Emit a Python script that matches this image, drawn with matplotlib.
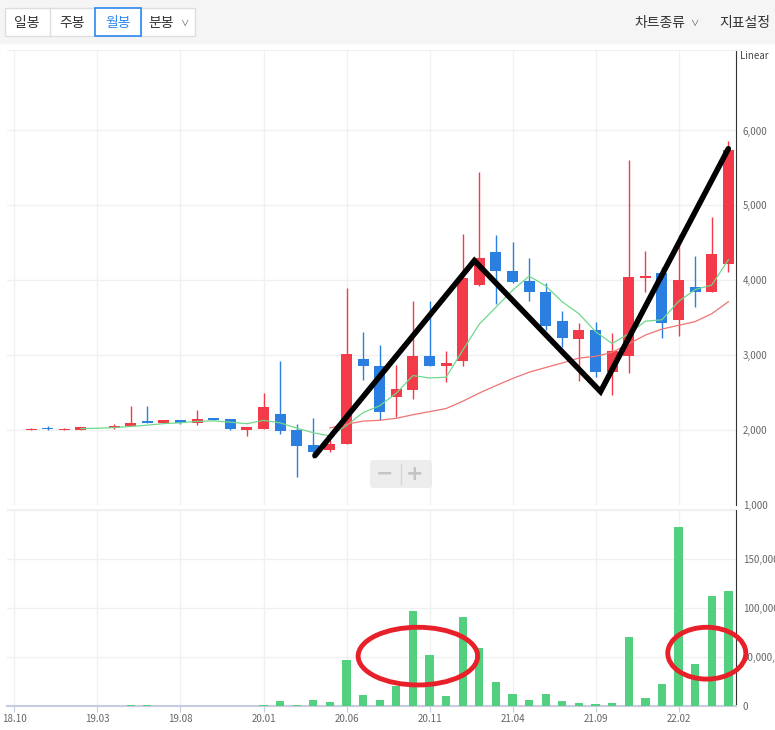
import numpy as np
import pandas as pd
import matplotlib
matplotlib.use('Agg')
import matplotlib.pyplot as plt
from matplotlib.patches import Rectangle, Ellipse, FancyBboxPatch

plt.rcParams['font.family'] = ['Noto Sans CJK KR', 'DejaVu Sans']

# monthly candles, 2018.10 ~ 2022.05
months = pd.period_range('2018-10', '2022-05', freq='M')
opens  = [2020, 2000, 2030, 2000, 2005, 2040, 2025, 2055, 2120, 2090, 2140, 2090,
          2155, 2150, 2005, 2010, 2220, 2005, 1805, 1730, 1820, 2955, 2860, 2440,
          2530, 2995, 2850, 2920, 3940, 4380, 4130, 3985, 3850, 3460, 3215, 3335,
          2770, 2995, 4030, 4100, 3465, 3915, 3850, 4215]
highs  = [2020, 2030, 2050, 2030, 2040, 2040, 2080, 2325, 2325, 2140, 2140, 2270,
          2160, 2150, 2045, 2500, 2920, 2085, 2155, 1870, 3900, 3305, 3130, 2875,
          3730, 3720, 3060, 4620, 5440, 4610, 4505, 4300, 3965, 3585, 3425, 3440,
          3290, 5605, 4395, 4180, 4600, 4330, 4850, 5865]
lows   = [2010, 2000, 2005, 2000, 2005, 2035, 2020, 2050, 2090, 2090, 2080, 2065,
          2135, 2000, 1920, 2010, 1945, 1370, 1630, 1705, 1820, 2665, 2140, 2170,
          2415, 2850, 2640, 2860, 3920, 3680, 3960, 3720, 3340, 3115, 2650, 2705,
          2470, 2760, 3840, 3230, 3255, 3650, 3850, 4105]
closes = [2010, 2020, 2020, 2015, 2035, 2035, 2060, 2100, 2100, 2140, 2090, 2150,
          2140, 2010, 2035, 2315, 1985, 1785, 1705, 1820, 3010, 2850, 2240, 2545,
          2995, 2850, 2900, 4035, 4300, 4120, 3975, 3850, 3385, 3225, 3335, 2775,
          3060, 4040, 4060, 3430, 4000, 3850, 4345, 5745]
volumes_m = [0.1, 0.1, 0.1, 0.1, 0.1, 0.1, 0.2, 1.2, 1.0, 0.1, 0.1, 0.1,
             0.1, 0.1, 0.1, 1.2, 5.0, 1.0, 6.0, 4.0, 47, 11, 6, 20,
             97, 52, 10, 91, 59, 24.5, 12.5, 6.5, 12.5, 5.5, 3.3, 2.3,
             3.3, 70.5, 8.5, 23, 183, 43, 112.5, 118]

tick_idx = [0, 5, 10, 15, 20, 25, 30, 35, 40]
tick_labels = ['18.10', '19.03', '19.08', '20.01', '20.06', '20.11', '21.04', '21.09', '22.02']
price_ticks = [1000, 2000, 3000, 4000, 5000, 6000]
vol_ticks = [0, 50e6, 100e6, 150e6]
vol_labels = ['0', '50,000,000', '100,000,000', '150,000,000']

# hand-drawn markup on top of the chart
zigzag_idx   = [18.1, 27.7, 35.3, 43.0]
zigzag_price = [1660, 4263, 2514, 5757]
circle_centers = [(24.3, 51e6), (41.7, 54e6)]
circle_sizes   = [(7.2, 59e6), (4.7, 53e6)]

UP, DOWN = '#f23a48', '#2b7fe0'
VOL = '#52d07f'
GRID = '#f0f0f0'
TXT = '#666666'

W, H = 775, 730
fig = plt.figure(figsize=(W / 100, H / 100), dpi=100)
fig.patch.set_facecolor('white')

def frac(x0, y0, x1, y1):
    return [x0 / W, 1 - y1 / H, (x1 - x0) / W, (y1 - y0) / H]

ax = fig.add_axes(frac(7, 50, 736, 505))
axv = fig.add_axes(frac(7, 509, 736, 706), sharex=ax)

x = np.arange(len(months))
o, h, l, c = map(np.array, (opens, highs, lows, closes))
colors = np.where(c >= o, UP, DOWN)

ax.vlines(x, l, h, colors=colors, linewidth=1, zorder=3)
body = np.maximum(np.abs(c - o), 8)
ax.bar(x, body, bottom=np.minimum(o, c), width=0.66, color=colors, zorder=3)

ma5 = pd.Series(closes).rolling(5).mean()
ma20 = pd.Series(closes).rolling(20).mean()
ax.plot(x, ma5, color='#6fd88a', lw=0.9, zorder=4)
ax.plot(x, ma20, color='#f07373', lw=0.9, zorder=4)

ax.plot(zigzag_idx, zigzag_price, color='black', lw=4, solid_capstyle='round',
        solid_joinstyle='miter', zorder=10)

ax.set_xlim(-0.45, 43.46)
ax.set_ylim(1000, 1000 + 455 / 74.9 * 1000)
ax.set_yticks(price_ticks)
ax.set_yticklabels([f'{v:,}' for v in price_ticks])

axv.bar(x, np.array(volumes_m) * 1e6, width=0.5, color=VOL, zorder=3)
axv.set_ylim(0, 197 / 48.9 * 50e6)
axv.set_yticks(vol_ticks + [200e6])
axv.set_yticklabels(vol_labels + [''])
for (cx, cy), (ew, eh) in zip(circle_centers, circle_sizes):
    axv.add_patch(Ellipse((cx, cy), ew, eh, fill=False, ec='#e8202a', lw=3.5,
                          clip_on=False, zorder=10))

for a in (ax, axv):
    a.yaxis.tick_right()
    a.tick_params(axis='y', length=0, pad=5, labelsize=7, labelcolor=TXT)
    a.grid(True, color=GRID, lw=1, zorder=0)
    for s in a.spines.values():
        s.set_visible(False)
    a.spines['right'].set_visible(True)
    a.spines['right'].set_color('#333333')
    a.spines['top'].set_visible(True)
    a.spines['top'].set_color(GRID)
    a.set_xticks(tick_idx)

ax.tick_params(axis='x', length=0, labelbottom=False)
axv.spines['bottom'].set_visible(True)
axv.spines['bottom'].set_color('#c7cce0')
axv.spines['bottom'].set_linewidth(1.5)
axv.set_xticklabels(tick_labels)
axv.tick_params(axis='x', length=4, color='#c7cce0', labelsize=7, labelcolor=TXT, pad=2)

# overlay in pixel coordinates for the toolbar and widgets
ov = fig.add_axes([0, 0, 1, 1], zorder=5)
ov.set_xlim(0, W)
ov.set_ylim(H, 0)
ov.axis('off')

ov.add_patch(Rectangle((0, 0), W, 43, color='#f5f5f5', zorder=1))
ov.add_patch(Rectangle((5, 8), 190, 28, fc='white', ec='#dddddd', lw=1, zorder=2))
for bx in (50, 141):
    ov.plot([bx, bx], [8, 36], color='#dddddd', lw=1, zorder=2)
ov.add_patch(Rectangle((95, 8), 46, 28, fc='white', ec='#2d88f0', lw=1.2, zorder=3))
for label, bx, col in [('일봉', 27, '#333333'), ('주봉', 72, '#333333'),
                       ('월봉', 118, '#2d88f0'), ('분봉', 161, '#333333')]:
    ov.text(bx, 23.5, label, ha='center', va='center', fontsize=10, color=col, zorder=4)
ov.text(184, 23, '∨', ha='center', va='center', fontsize=6, color='#555555', zorder=4)
ov.text(634, 23.5, '차트종류', ha='left', va='center', fontsize=10, color='#333333', zorder=4)
ov.text(694, 23, '∨', ha='center', va='center', fontsize=6, color='#555555', zorder=4)
ov.text(719, 23.5, '지표설정', ha='left', va='center', fontsize=10, color='#333333', zorder=4)

ov.text(740, 56, 'Linear', ha='left', va='center', fontsize=7, color='#444444')

ov.add_patch(FancyBboxPatch((370, 460), 62, 28, boxstyle='round,pad=0,rounding_size=3',
                            fc='#ebebeb', ec='none', alpha=0.9, zorder=2))
ov.plot([401, 401], [464, 484], color='#d6d6d6', lw=1, zorder=3)
ov.text(385, 474, '−', ha='center', va='center', fontsize=15, color='#c4c4c4',
        family='DejaVu Sans', fontweight='bold', zorder=3)
ov.text(415, 474, '+', ha='center', va='center', fontsize=15, color='#c4c4c4',
        family='DejaVu Sans', fontweight='bold', zorder=3)

fig.savefig('out.png', dpi=100)
